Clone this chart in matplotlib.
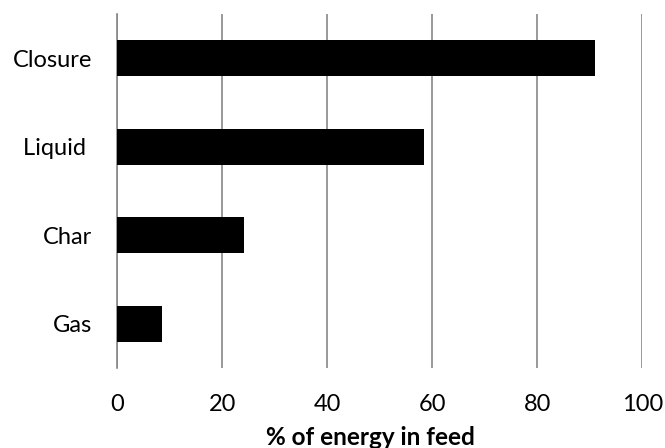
import numpy as np
import matplotlib.pyplot as plt

categories = ["Gas", "Char", "Liquid ", "Closure"]
energy = [8.6, 24.2, 58.4, 91.0]
xticks = [0, 20, 40, 60, 80, 100]

plt.rcParams['font.family'] = ['Lato', 'DejaVu Sans']

fig = plt.figure(figsize=(6.65, 4.48), dpi=100)
ax = fig.add_axes([0.1764, 0.1786, 0.7895, 0.7902])

y = np.arange(len(categories))
ax.barh(y, energy, height=0.41, color="black", zorder=3)

ax.set_xlim(0, 100)
ax.set_ylim(-0.5, 3.5)
ax.set_xticks(xticks)
ax.set_yticks(y)
ax.set_yticklabels(categories)
ax.grid(axis="x", color="#888888", linewidth=1.2, zorder=0)
for side in ["top", "right", "bottom"]:
    ax.spines[side].set_visible(False)
ax.spines["left"].set_color("#888888")
ax.spines["left"].set_linewidth(1.2)
ax.tick_params(axis="both", length=0, labelsize=17)
ax.tick_params(axis="x", pad=19)
ax.tick_params(axis="y", pad=18)
ax.set_xlabel("% of energy in feed", fontsize=17.5, fontweight="bold")
ax.xaxis.set_label_coords(0.483, -0.165)

fig.savefig("out.png", dpi=100)
